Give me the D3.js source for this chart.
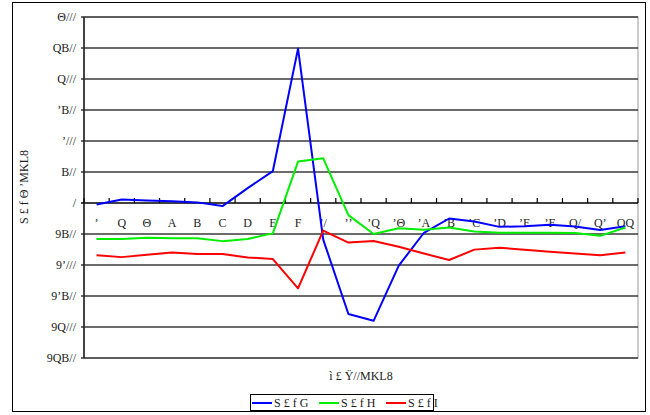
<!DOCTYPE html>
<html><head><meta charset="utf-8">
<script src="https://cdn.jsdelivr.net/npm/d3@7"></script>
<style>body{margin:0;background:#fff}svg{display:block}</style>
</head><body>
<svg id="c" width="650" height="415"></svg>
<script>
// data
const categories = [1,2,3,4,5,6,7,8,9,10,11,12,13,14,15,16,17,18,19,20,21,22];
const seriesG = [-25,55,40,30,10,-50,240,515,2490,-590,-1790,-1900,-1010,-480,-250,-300,-385,-375,-350,-380,-435,-375];
const seriesH = [-580,-580,-560,-570,-570,-615,-580,-490,668,720,-195,-500,-408,-430,-395,-460,-478,-478,-478,-485,-530,-395];
const seriesI = [-841,-873,-835,-798,-824,-824,-878,-905,-1376,-445,-638,-612,-705,-815,-920,-752,-722,-755,-787,-814,-841,-798];
const yTicks = [-2500,-2000,-1500,-1000,-500,0,500,1000,1500,2000,2500,3000];
const seriesNames = ["S £ f G","S £ f H","S £ f I"];
const seriesColors = ["#0000ff","#00ee00","#ff0000"];
const xTitle = "ì £ Ÿ//MKL8";
const yTitle = "S £ f Θ  ʼMKL8";
// glyph substitution seen in the reference's font
const glyph = {'0':'/','1':'ʼ','2':'Q','3':'Θ','4':'A','5':'B','6':'C','7':'D','8':'E','9':'F','-':'9'};
const fmt = v => String(v).split('').map(c => glyph[c] ?? c).join('');

const svg = d3.select('#c');
const L = 84, R = 638, T = 17, B = 358;
const x = d3.scaleBand().domain(categories).range([L, R]);
const y = d3.scaleLinear().domain([-2500, 3000]).range([B, T]);
const cx = c => x(c) + x.bandwidth()/2;

// outer border
svg.append('rect').attr('x',12.5).attr('y',2.5).attr('width',633).attr('height',409)
  .attr('fill','#fff').attr('stroke','#000').attr('stroke-width',1);

// plot frame
svg.append('rect').attr('x',L).attr('y',T).attr('width',R-L).attr('height',B-T)
  .attr('fill','#fff').attr('stroke','#999').attr('stroke-width',1);

// gridlines
svg.append('g').selectAll('line').data(yTicks).join('line')
  .attr('x1',L-3).attr('x2',R).attr('y1',d=>y(d)).attr('y2',d=>y(d))
  .attr('stroke',d=>d===0?'#000':'#3a3a3a').attr('stroke-width',1.6);

// y axis line
svg.append('line').attr('x1',L).attr('x2',L).attr('y1',T).attr('y2',B)
  .attr('stroke','#222').attr('stroke-width',1.6);

// y tick labels
svg.append('g').selectAll('text').data(yTicks).join('text')
  .attr('x',76).attr('y',d=>y(d)).attr('dy','0.35em').attr('text-anchor','end')
  .attr('font-family','Liberation Serif').attr('font-size',12).attr('fill','#222')
  .text(d=>fmt(d));

// x axis ticks (between categories, pointing up)
const bounds = categories.map(c => x(c)).concat([R]);
svg.append('g').selectAll('line').data(bounds).join('line')
  .attr('x1',d=>d).attr('x2',d=>d).attr('y1',y(0)).attr('y2',y(0)-5)
  .attr('stroke','#000').attr('stroke-width',1.2);

// category labels
svg.append('g').selectAll('text').data(categories).join('text')
  .attr('x',d=>cx(d)).attr('y',223).attr('dy','0.35em').attr('text-anchor','middle')
  .attr('font-family','Liberation Serif').attr('font-size',12).attr('fill','#222')
  .text(d=>fmt(d));

// lines
const line = d3.line().x((d,i)=>cx(categories[i])).y(d=>y(d));
[seriesG, seriesH, seriesI].forEach((s,k) => {
  svg.append('path').datum(s).attr('d',line).attr('fill','none')
    .attr('stroke',seriesColors[k]).attr('stroke-width',2).attr('stroke-linejoin','round');
});

// axis titles
svg.append('text').attr('x',(L+R)/2).attr('y',376).attr('dy','0.35em').attr('text-anchor','middle')
  .attr('font-family','Liberation Serif').attr('font-size',12).attr('fill','#222').text(xTitle);
svg.append('text').attr('transform','translate(24,187) rotate(-90)').attr('dy','0.35em')
  .attr('text-anchor','middle').attr('font-family','Liberation Serif').attr('font-size',12)
  .attr('fill','#222').text(yTitle);

// legend
const lg = svg.append('g');
lg.append('rect').attr('x',250.5).attr('y',394.5).attr('width',183).attr('height',16)
  .attr('fill','#fff').attr('stroke','#000').attr('stroke-width',1);
const legX = [252, 319, 386];
seriesNames.forEach((n,k) => {
  lg.append('line').attr('x1',legX[k]).attr('x2',legX[k]+20).attr('y1',403).attr('y2',403)
    .attr('stroke',seriesColors[k]).attr('stroke-width',2);
  lg.append('text').attr('x',legX[k]+22).attr('y',403).attr('dy','0.35em')
    .attr('font-family','Liberation Serif').attr('font-size',12).attr('fill','#222').text(n);
});
</script>
</body></html>
